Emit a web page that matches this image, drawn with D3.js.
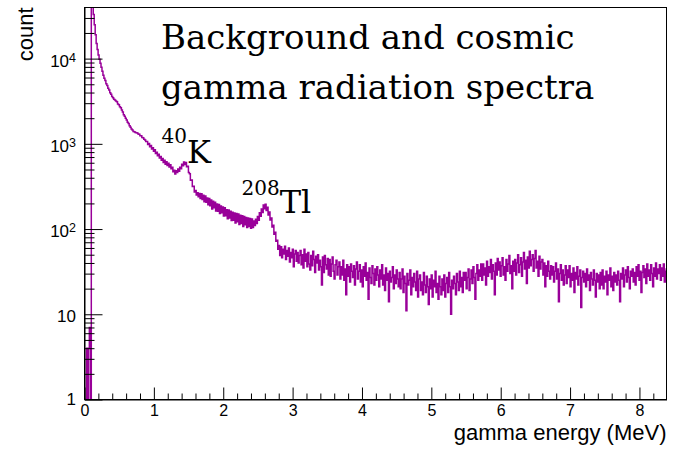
<!DOCTYPE html>
<html>
<head>
<meta charset="utf-8">
<script src="https://cdn.jsdelivr.net/npm/d3@7"></script>
<style>
  html, body { margin: 0; padding: 0; background: #ffffff; }
  svg { display: block; }
</style>
</head>
<body>
<svg id="chart" width="679" height="453"></svg>
<script>
// ---- Spectrum data: counts per channel, channel width in MeV ----
const binWidth = 0.014;

// 0 – 0.11 MeV: discriminator threshold region
const countsThreshold = [1, 1, 4, 1, 4, 7, 1, 90000];

// 0.11 – 0.77 MeV: low-energy continuum
const countsLowEnergy = [
  45000, 33000, 25000, 19000, 15000, 12800, 11000, 9800, 8800, 7900, 7100, 6400, 5900,
  5520, 5080, 4830, 4480, 4270, 3980, 3820, 3590, 3470, 3330, 3270, 3190, 3120, 2940,
  2870, 2730, 2660, 2490, 2370, 2200, 2110, 1990, 1910, 1790, 1730, 1630, 1570, 1490,
  1450, 1395, 1385, 1355, 1352, 1338
];

// 0.77 – 1.65 MeV: continuum and the 40K line
const countsPotassium = [
  1305, 1298, 1248, 1241, 1188, 1176, 1131, 1112, 1062,
  1068, 982, 1006, 922, 958, 871, 897, 818, 851, 768, 799, 724, 757, 682, 711,
  641, 672, 603, 641, 577, 616, 556, 591, 536, 569, 509, 531, 470, 490, 443,
  484, 461, 506, 476, 532, 509, 578, 553, 613, 574, 606, 539, 546, 462, 447,
  374, 376, 316, 318, 273, 284, 251, 266, 240
];

// 1.65 – 2.80 MeV: continuum and the 208Tl line
const countsThallium = [
  262, 228, 259, 222, 250, 209, 245, 206, 232, 193, 228, 188, 220, 172, 212,
  178, 206, 163, 197, 162, 194, 152, 187, 155, 182, 142, 178, 143, 169, 132,
  167, 135, 162, 126, 158, 127, 154, 118, 152, 122, 150, 113, 145, 116, 143,
  107, 140, 112, 137, 104, 135, 107, 133, 102, 131, 104,
  124, 110, 130, 116, 140, 127, 155, 141, 172, 156, 192, 173, 195, 165, 180,
  146, 159, 128, 135, 106, 111, 87, 92, 72, 74, 58
];

// 2.80 – 5.60 MeV: cosmic continuum
const countsCosmicA = [
  64, 49, 62, 46, 58, 51, 63, 44, 56, 48, 60, 41, 53, 46, 58, 36, 51, 56, 42, 53, 40, 49,
  56, 38, 50, 35, 58, 42, 51, 36,
  53, 39, 33, 49, 37, 55, 44, 31, 48, 40,
  50, 33, 43, 36, 22, 47, 31, 49, 38, 34, 45, 29,
  44, 28, 39, 47, 32, 26, 38, 43, 29, 36,
  41, 26, 36, 29, 43, 25, 34, 17, 38, 28, 36,
  24, 39, 32, 27, 37, 22, 34, 41, 26, 32,
  38, 24, 33, 21, 36, 28, 40, 25, 31, 15, 35, 27, 23, 37, 30, 22, 34,
  25, 36, 29, 21, 33, 26, 38, 22, 29, 19, 35, 25, 30, 14, 32, 24, 27, 36, 20, 29, 23, 33, 26, 21,
  31, 20, 26, 34, 18, 28, 23, 11, 30, 22, 25, 33, 17, 27, 21, 30, 24, 19, 32, 16, 26,
  29, 19, 24, 17, 31, 22, 18, 28, 21, 13, 26, 20, 29, 16, 25, 21, 32, 18, 23, 15, 28, 21, 17, 26,
  19, 29, 16, 23, 27, 18, 31, 21, 10, 25, 20, 28, 23, 17, 30, 24, 19, 32, 21, 27, 18, 31, 25
];

// 5.60 – 8.40 MeV: cosmic continuum with the broad bump near 6.4 MeV
const countsCosmicB = [
  31, 20, 27, 34, 19, 26, 33, 23, 36, 27, 15, 30, 38, 25, 33, 28, 39,
  25, 39, 29, 35, 22, 42, 28, 36, 31, 44, 26, 38, 32, 17, 40, 29, 45, 33,
  41, 28, 37, 46, 29, 36, 25, 44, 32, 39, 49, 30, 37, 20, 42,
  32, 44, 29, 40, 50, 31, 38, 46, 28, 41, 53, 34, 43, 23, 47, 35, 55, 37, 44,
  50, 32, 45, 56, 35, 42, 28, 48, 34, 41,
  44, 29, 40, 21, 37, 28, 42, 32, 26, 37, 29,
  36, 24, 32, 40, 26, 34, 14, 30, 38, 25, 33, 22, 29, 37,
  23, 33, 27, 37, 21, 30, 25, 35, 18, 31, 26, 36, 22, 28, 33, 12, 27, 32, 24, 30,
  21, 34, 25, 29, 19, 31, 26, 22, 33, 25, 16, 30, 24, 29, 20,
  31, 22, 33, 20, 28, 24, 32, 17, 29, 25, 35, 21, 28, 19, 31, 24, 29,
  22, 32, 25, 14, 30, 26, 35, 21, 29, 33, 24, 36, 27, 20, 32, 28,
  34, 24, 31, 22, 36, 28, 38, 25, 32, 18, 31, 37, 27, 34, 23, 39, 28, 33, 25, 38,
  30, 21, 35, 28, 40, 26, 34, 30,
  38, 25, 35, 28, 39, 24, 32, 34
];

// ---- Axis definitions ----
const xMax = 8.39;
const yMax = 39800;
const xTickValues = [0, 1, 2, 3, 4, 5, 6, 7, 8];
const yTickValues = [1, 10, 100, 1000, 10000];
const yTickBases = ["1", "10", "10", "10", "10"];
const yTickExponents = ["", "", "2", "3", "4"];

const titleLines = ["Background and cosmic", "gamma radiation spectra"];
const xTitle = "gamma energy (MeV)";
const yTitle = "count";
const peakMasses = ["40", "208"];
const peakElements = ["K", "Tl"];

// ---- Layout ----
const frame = { left: 84.5, top: 7.5, right: 666.5, bottom: 399.5 };
const purple = "#990099";
const sans = "'Liberation Sans', Arial, Helvetica, sans-serif";
const serif = "'DejaVu Serif', serif";

const svg = d3.select("#chart");

const x = d3.scaleLinear().domain([0, xMax]).range([frame.left, frame.right]);
const y = d3.scaleLog().domain([1, yMax]).range([frame.bottom, frame.top]);

// ---- Histogram (step line) ----
const counts = [].concat(countsThreshold, countsLowEnergy, countsPotassium,
                         countsThallium, countsCosmicA, countsCosmicB);
const steps = counts.map((c, i) => [i * binWidth, c]);
steps.push([counts.length * binWidth, counts[counts.length - 1]]);

svg.append("defs").append("clipPath").attr("id", "plot-clip")
  .append("rect")
  .attr("x", frame.left).attr("y", frame.top)
  .attr("width", frame.right - frame.left).attr("height", frame.bottom - frame.top);

const line = d3.line()
  .x(d => x(d[0]))
  .y(d => y(Math.max(d[1], 1)))
  .curve(d3.curveStepAfter);

svg.append("path")
  .datum(steps)
  .attr("clip-path", "url(#plot-clip)")
  .attr("fill", "none")
  .attr("stroke", purple)
  .attr("stroke-width", 1.5)
  .attr("stroke-linejoin", "miter")
  .attr("d", line);

// ---- Axes (ticks drawn inward, ROOT style) ----
const xMinor = d3.range(0, xMax, 0.2).filter(v => Math.abs(v - Math.round(v)) > 1e-6);
const yMinor = [];
[1, 10, 100, 1000, 10000].forEach(dec => {
  for (let m = 2; m <= 9; m++) if (dec * m <= yMax) yMinor.push(dec * m);
});

const xAxisMajor = d3.axisBottom(x).tickValues(xTickValues)
  .tickSizeInner(-12).tickSizeOuter(0).tickPadding(5).tickFormat(d3.format("d"));
const xAxisMinor = d3.axisBottom(x).tickValues(xMinor)
  .tickSizeInner(-6).tickSizeOuter(0).tickFormat("");

const gx = svg.append("g").attr("transform", `translate(0,${frame.bottom})`).call(xAxisMajor);
svg.append("g").attr("transform", `translate(0,${frame.bottom})`).call(xAxisMinor)
  .select(".domain").remove();
gx.attr("font-size", null).attr("font-family", null);
gx.selectAll("text")
  .style("font-family", sans).style("font-size", "16px").attr("fill", "#000");

const yAxisMajor = d3.axisLeft(y).tickValues(yTickValues)
  .tickSizeInner(-18).tickSizeOuter(0).tickFormat("");
const yAxisMinor = d3.axisLeft(y).tickValues(yMinor)
  .tickSizeInner(-10).tickSizeOuter(0).tickFormat("");
svg.append("g").attr("transform", `translate(${frame.left},0)`).call(yAxisMajor);
svg.append("g").attr("transform", `translate(${frame.left},0)`).call(yAxisMinor)
  .select(".domain").remove();

svg.selectAll(".tick line").attr("stroke", "#000").attr("stroke-width", 1);

// Y tick labels with superscript exponents
const yLabels = svg.append("g").attr("fill", "#000");
yTickValues.forEach((v, i) => {
  const t = yLabels.append("text")
    .attr("x", 76)
    .attr("y", v === 1 ? y(v) + 5 : y(v) + 8)
    .attr("text-anchor", "end")
    .style("font-family", sans).style("font-size", "17px");
  t.append("tspan").text(yTickBases[i]);
  if (yTickExponents[i]) {
    t.append("tspan").style("font-size", "12.5px").attr("dy", -5).text(yTickExponents[i]);
  }
});

// Frame
svg.append("rect")
  .attr("x", frame.left).attr("y", frame.top)
  .attr("width", frame.right - frame.left).attr("height", frame.bottom - frame.top)
  .attr("fill", "none").attr("stroke", "#000").attr("stroke-width", 1);

// ---- Axis titles ----
svg.append("text")
  .attr("x", frame.right).attr("y", 440)
  .attr("text-anchor", "end")
  .style("font-family", sans).style("font-size", "22px").attr("fill", "#000")
  .text(xTitle);

svg.append("text")
  .attr("transform", `translate(33,${frame.top}) rotate(-90)`)
  .attr("text-anchor", "end")
  .style("font-family", sans).style("font-size", "22px").attr("fill", "#000")
  .text(yTitle);

// ---- Title ----
const title = svg.append("text")
  .style("font-family", serif).style("font-size", "34px").attr("fill", "#000");
title.append("tspan").attr("x", 161).attr("y", 48.5).text(titleLines[0]);
title.append("tspan").attr("x", 161).attr("y", 98.5).text(titleLines[1]);

// ---- Peak annotations ----
const peakAnchors = [
  { x: 161.5, supY: 143, y: 162.5 },
  { x: 241.5, supY: 195, y: 213 }
];
peakAnchors.forEach((p, i) => {
  const t = svg.append("text")
    .style("font-family", serif).attr("fill", "#000")
    .attr("x", p.x);
  t.append("tspan").attr("y", p.supY).style("font-size", "20px").text(peakMasses[i]);
  t.append("tspan").attr("y", p.y).style("font-size", "32px").text(peakElements[i]);
});
</script>
</body>
</html>
